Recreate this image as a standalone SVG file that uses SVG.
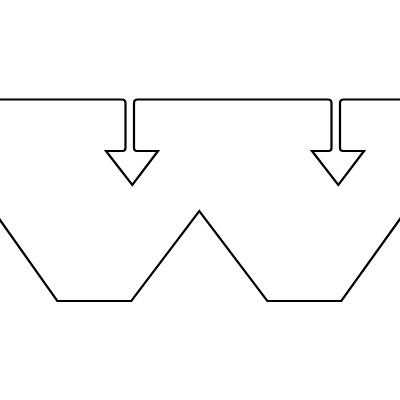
<svg xmlns="http://www.w3.org/2000/svg" width="400" height="400" viewBox="0 0 400 400">
<style>
.ln{fill:none;stroke:#000;stroke-width:2.2;stroke-linejoin:miter}
</style>
<rect width="400" height="400" fill="#fff"/>
<g id="connectors">
<path class="ln" d="M-5,99.5 H122 Q125.5,99.5 125.5,103 V148 Q125.5,151 122.5,151 H106 L132.3,185 L158,151 H137 Q134,151 134,148 V103 Q134,99.5 137.5,99.5 H328 Q331.5,99.5 331.5,103 V148 Q331.5,151 328.5,151 H312 L338.3,185 L364,151 H343 Q340,151 340,148 V103 Q340,99.5 343.5,99.5 H405"/>
</g>
<g id="w-shape">
<path class="ln" d="M-5,212.9 L57.3,301 H131.3 L199.3,211 L267.3,301 H341.3 L405,212"/>
</g>
</svg>
